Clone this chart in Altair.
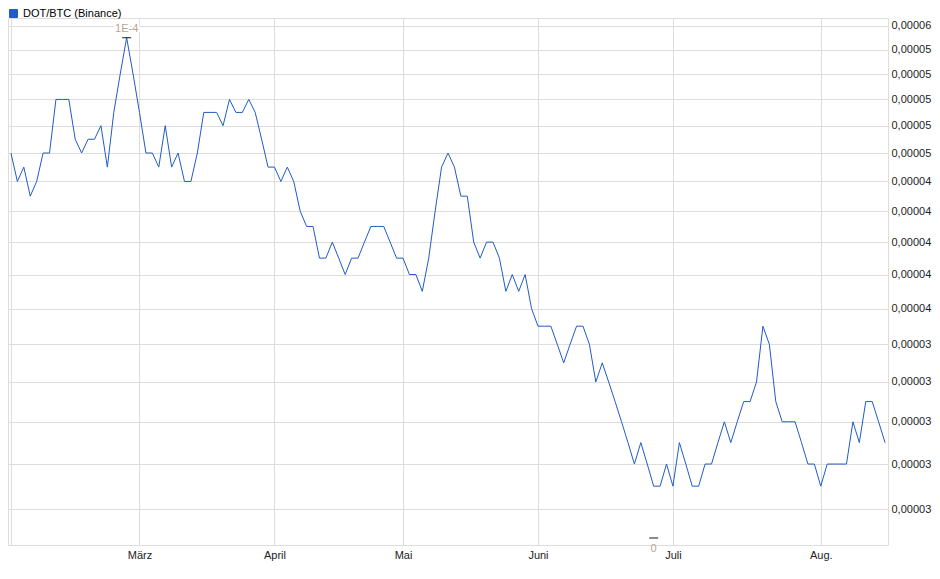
import altair as alt
import pandas as pd

series_name = "DOT/BTC (Binance)"

# closing values in units of 1e-6 BTC, one per trading day (index 0 = early Feb)
values_e6 = [50, 48, 49, 47, 48, 50, 50, 54, 54, 54,
             51, 50, 51, 51, 52, 49, 53, 56, 59, 56,
             53, 50, 50, 49, 52, 49, 50, 48, 48, 50,
             53, 53, 53, 52, 54, 53, 53, 54, 53, 51,
             49, 49, 48, 49, 48, 46, 45, 45, 43, 43,
             44, 43, 42, 43, 43, 44, 45, 45, 45, 44,
             43, 43, 42, 42, 41, 43, 46, 49, 50, 49,
             47, 47, 44, 43, 44, 44, 43, 41, 42, 41,
             42, 40, 39, 39, 39, 38, 37, 38, 39, 39,
             38, 36, 37, 36, 35, 34, 33, 32, 33, 32,
             31, 31, 32, 31, 33, 32, 31, 31, 32, 32,
             33, 34, 33, 34, 35, 35, 36, 39, 38, 35,
             34, 34, 34, 33, 32, 32, 31, 32, 32, 32,
             32, 34, 33, 35, 35, 34, 33]

month_idx = [0, 20, 41, 61, 82, 103, 126]
month_names = ["", "März", "April", "Mai", "Juni", "Juli", "Aug."]

y_ticks_e6 = [30, 32, 34, 36, 38, 40, 42, 44, 46, 48, 50, 52, 54, 56, 58, 60]

high_label = "1E-4"
low_label = "0"

df = pd.DataFrame({
    "i": list(range(len(values_e6))),
    "v": [v * 1e-6 for v in values_e6],
    "series": series_name,
})

imax = int(df["v"].idxmax())
imin = int(df["v"].idxmin())
hi = df.loc[[imax]].assign(lab=high_label)
lo = df.loc[[imin]].assign(lab=low_label)

label_expr = " : ".join(
    f"datum.value == {i} ? '{n}'" for i, n in zip(month_idx, month_names)
) + " : ''"

xscale = alt.Scale(domain=[-0.46, 136.46], nice=False, zero=False)
yscale = alt.Scale(type="log", domain=[28.49e-6, 60.69e-6], nice=False, zero=False)

xaxis = alt.Axis(values=month_idx, labelExpr=label_expr, grid=True, gridColor="#dddddd",
                 ticks=False, tickSize=0, domain=False, labelPadding=4, title=None,
                 labelFontSize=11, labelColor="#222222", labelFont="Liberation Sans")
yaxis = alt.Axis(orient="right", values=[v * 1e-6 for v in y_ticks_e6],
                 labelExpr="replace(format(floor(datum.value*100000+0.000001)/100000, '.5f'), '.', ',')",
                 grid=True, gridColor="#dddddd", ticks=False, tickSize=0, domain=False,
                 labelPadding=3, title=None, labelFontSize=11, labelColor="#222222",
                 labelFont="Liberation Sans", labelOverlap=False, labelBound=False)

line = alt.Chart(df).mark_line(strokeWidth=1, interpolate="linear").encode(
    x=alt.X("i:Q", scale=xscale, axis=xaxis),
    y=alt.Y("v:Q", scale=yscale, axis=yaxis),
    color=alt.Color("series:N", scale=alt.Scale(range=["#1f5cc4"]),
                    legend=alt.Legend(orient="none", legendX=0, legendY=-10, title=None,
                                      symbolType="square", symbolSize=64,
                                      symbolFillColor="#1f5cc4", symbolStrokeColor="#0b2a66",
                                      symbolStrokeWidth=1, labelFontSize=11,
                                      labelColor="#000000", labelFont="Liberation Sans",
                                      labelOffset=4, padding=0)),
)

hi_tick = alt.Chart(hi).mark_tick(orient="horizontal", size=9, thickness=1.3, color="#000000").encode(
    x=alt.X("i:Q", scale=xscale), y=alt.Y("v:Q", scale=yscale))
hi_halo = alt.Chart(hi).mark_text(dy=-9, fontSize=11, font="Liberation Sans", stroke="white",
                                  strokeWidth=4, color="white").encode(
    x=alt.X("i:Q", scale=xscale), y=alt.Y("v:Q", scale=yscale), text="lab:N")
hi_text = alt.Chart(hi).mark_text(dy=-9, fontSize=11, font="Liberation Sans", color="#b5a596").encode(
    x=alt.X("i:Q", scale=xscale), y=alt.Y("v:Q", scale=yscale), text="lab:N")

lo_tick = alt.Chart(lo).mark_tick(orient="horizontal", size=9, thickness=1.3, color="#000000").encode(
    x=alt.X("i:Q", scale=xscale), y=alt.value(520))
lo_text = alt.Chart(lo).mark_text(fontSize=11, font="Liberation Sans", color="#b5a596").encode(
    x=alt.X("i:Q", scale=xscale), y=alt.value(531), text="lab:N")

chart = alt.layer(line, hi_tick, hi_halo, hi_text, lo_tick, lo_text).properties(
    width=880, height=527,
    autosize=alt.AutoSizeParams(type="none"),
    padding={"left": 0, "top": 10, "right": 44, "bottom": 20},
).configure_view(stroke="#d4d4d4", strokeWidth=1).configure(font="Liberation Sans")

chart.save("out.html", embed_options={"renderer": "svg", "actions": False})
